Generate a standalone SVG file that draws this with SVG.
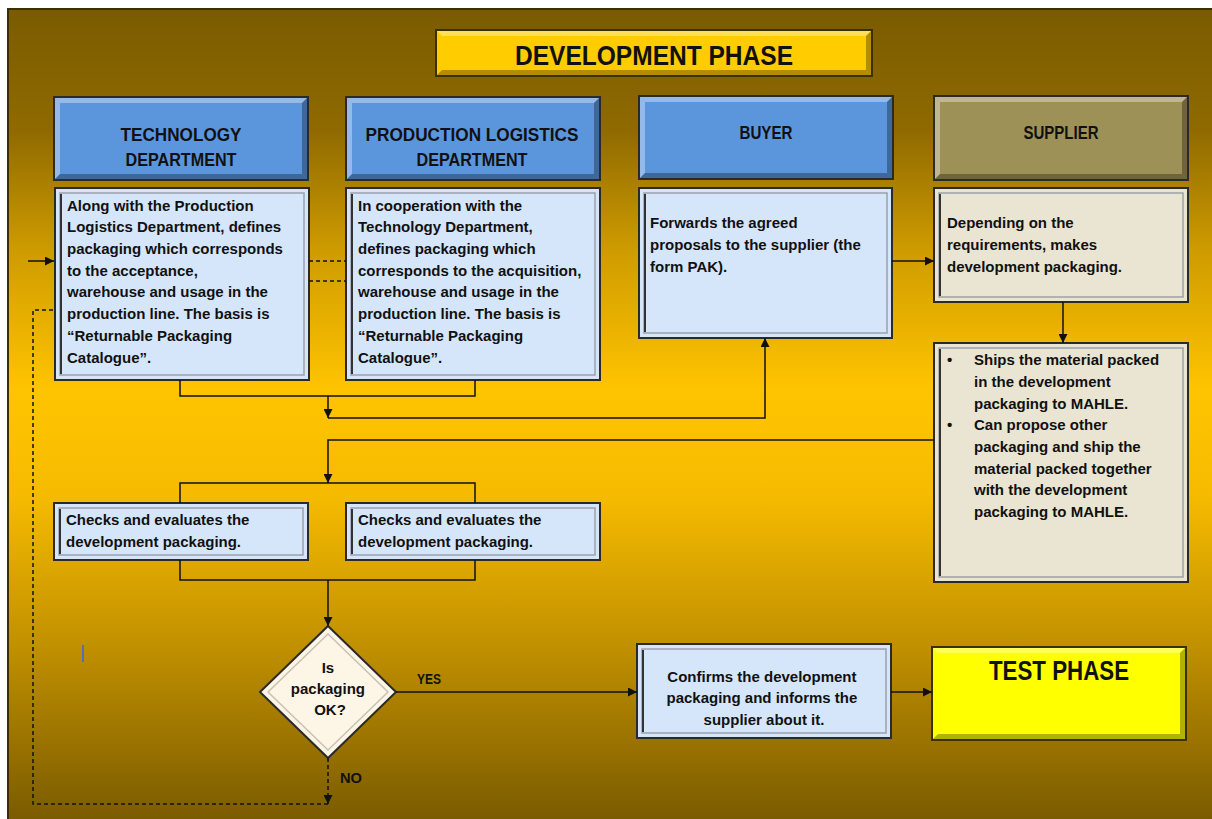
<svg xmlns="http://www.w3.org/2000/svg" width="1212" height="819" viewBox="0 0 1212 819">
<defs>
<linearGradient id="bg" x1="0" y1="9" x2="0" y2="819" gradientUnits="userSpaceOnUse">
<stop offset="0" stop-color="#7a5b00"/>
<stop offset="0.15" stop-color="#8f6a00"/>
<stop offset="0.3" stop-color="#cf9c00"/>
<stop offset="0.47" stop-color="#ffc400"/>
<stop offset="0.6" stop-color="#f6bb00"/>
<stop offset="0.8" stop-color="#bd8d00"/>
<stop offset="1" stop-color="#7a5b00"/>
</linearGradient>
<marker id="arr" viewBox="0 0 10 10" refX="10" refY="5" markerWidth="9" markerHeight="9" markerUnits="userSpaceOnUse" orient="auto">
<path d="M0,0 L10,5 L0,10 Z" fill="#111"/>
</marker>
<style>
.hdr{stroke:#2a2a2a;stroke-width:2}
.blue{fill:#5b96dd}
.sup{fill:#9e9158}
.hl{fill:#ffffff;opacity:0.35}
.sh{fill:#000000;opacity:0.3}
.desc{fill:#d5e6fb;stroke:#2a2a2a;stroke-width:2}
.cream{fill:#eae5d2;stroke:#2a2a2a;stroke-width:2}
.inner{fill:none;stroke:#9aa1aa;stroke-width:1.5}
.innl{stroke:#333;stroke-width:2}
.ht{font-family:"Liberation Sans",Arial,sans-serif;font-weight:bold;font-size:19px;fill:#111;text-anchor:middle}
.bt{font-family:"Liberation Sans",Arial,sans-serif;font-weight:bold;font-size:15px;fill:#111}
.c{text-anchor:middle}
.ln{fill:none;stroke:#111;stroke-width:1.5}
.dash{stroke-dasharray:4,3}
.lbl{font-family:"Liberation Sans",Arial,sans-serif;font-weight:bold;font-size:14px;fill:#111}
</style>
</defs>
<rect x="0" y="0" width="1212" height="819" fill="#ffffff"/>
<rect x="8" y="9" width="1210" height="815" fill="url(#bg)" stroke="#3b2e00" stroke-width="2"/>
<line x1="83" y1="645" x2="83" y2="662" stroke="#3a5cff" stroke-width="1.5"/>

<g id="title">
<rect x="436" y="30" width="436" height="46" fill="#ffcc00" stroke="#3b3000" stroke-width="2"/>
<polygon points="437,31 871,31 866,36 442,36" class="hl"/>
<polygon points="437,75 871,75 866,70 442,70" class="sh"/>
<polygon points="871,31 871,75 866,70 866,36" class="sh"/>
<text x="654" y="65" font-family="'Liberation Sans',Arial,sans-serif" font-weight="bold" font-size="27px" fill="#111" text-anchor="middle" textLength="278" lengthAdjust="spacingAndGlyphs">DEVELOPMENT PHASE</text>
</g>

<g id="hdr-tech">
<rect x="54" y="97" width="254" height="83" class="hdr blue"/>
<polygon points="55,98 307,98 302,103 60,103" class="hl"/>
<polygon points="55,98 60,103 60,174 55,179" class="hl"/>
<polygon points="55,179 307,179 302,174 60,174" class="sh"/>
<polygon points="307,98 307,179 302,174 302,103" class="sh"/>
<text x="181" y="141" class="ht" textLength="121" lengthAdjust="spacingAndGlyphs">TECHNOLOGY</text>
<text x="181" y="166" class="ht" textLength="111" lengthAdjust="spacingAndGlyphs">DEPARTMENT</text>
</g>

<g id="hdr-prod">
<rect x="346" y="97" width="254" height="83" class="hdr blue"/>
<polygon points="347,98 599,98 594,103 352,103" class="hl"/>
<polygon points="347,98 352,103 352,174 347,179" class="hl"/>
<polygon points="347,179 599,179 594,174 352,174" class="sh"/>
<polygon points="599,98 599,179 594,174 594,103" class="sh"/>
<text x="472" y="141" class="ht" textLength="213" lengthAdjust="spacingAndGlyphs">PRODUCTION LOGISTICS</text>
<text x="472" y="166" class="ht" textLength="111" lengthAdjust="spacingAndGlyphs">DEPARTMENT</text>
</g>

<g id="hdr-buyer">
<rect x="639" y="96" width="254" height="83" class="hdr blue"/>
<polygon points="640,97 892,97 887,102 645,102" class="hl"/>
<polygon points="640,97 645,102 645,173 640,178" class="hl"/>
<polygon points="640,178 892,178 887,173 645,173" class="sh"/>
<polygon points="892,97 892,178 887,173 887,102" class="sh"/>
<text x="766" y="139" class="ht" font-size="17px" textLength="53" lengthAdjust="spacingAndGlyphs">BUYER</text>
</g>

<g id="hdr-supplier">
<rect x="934" y="96" width="254" height="84" class="hdr sup"/>
<polygon points="935,97 1187,97 1182,102 940,102" class="hl"/>
<polygon points="935,97 940,102 940,174 935,179" class="hl"/>
<polygon points="935,179 1187,179 1182,174 940,174" class="sh"/>
<polygon points="1187,97 1187,179 1182,174 1182,102" class="sh"/>
<text x="1061" y="139" class="ht" font-size="17px" textLength="75" lengthAdjust="spacingAndGlyphs">SUPPLIER</text>
</g>

<g id="desc-tech">
<rect x="55" y="188" width="254" height="192" class="desc"/>
<rect x="60" y="193" width="244" height="182" class="inner"/>
<line x1="61" y1="194" x2="61" y2="374" class="innl"/>
<text class="bt">
<tspan x="67" y="211">Along with the Production</tspan>
<tspan x="67" y="232">Logistics Department, defines</tspan>
<tspan x="67" y="254">packaging which corresponds</tspan>
<tspan x="67" y="276">to the acceptance,</tspan>
<tspan x="67" y="297">warehouse and usage in the</tspan>
<tspan x="67" y="319">production line. The basis is</tspan>
<tspan x="67" y="341">“Returnable Packaging</tspan>
<tspan x="67" y="363">Catalogue”.</tspan>
</text>
</g>

<g id="desc-prod">
<rect x="346" y="188" width="254" height="192" class="desc"/>
<rect x="351" y="193" width="244" height="182" class="inner"/>
<line x1="352" y1="194" x2="352" y2="374" class="innl"/>
<text class="bt">
<tspan x="358" y="211">In cooperation with the</tspan>
<tspan x="358" y="232">Technology Department,</tspan>
<tspan x="358" y="254">defines packaging which</tspan>
<tspan x="358" y="276">corresponds to the acquisition,</tspan>
<tspan x="358" y="297">warehouse and usage in the</tspan>
<tspan x="358" y="319">production line. The basis is</tspan>
<tspan x="358" y="341">“Returnable Packaging</tspan>
<tspan x="358" y="363">Catalogue”.</tspan>
</text>
</g>

<g id="desc-buyer">
<rect x="639" y="188" width="253" height="150" class="desc"/>
<rect x="644" y="193" width="243" height="140" class="inner"/>
<line x1="645" y1="194" x2="645" y2="332" class="innl"/>
<text class="bt">
<tspan x="650" y="228">Forwards the agreed</tspan>
<tspan x="650" y="250">proposals to the supplier (the</tspan>
<tspan x="650" y="272">form PAK).</tspan>
</text>
</g>

<g id="desc-supplier">
<rect x="934" y="188" width="254" height="114" class="cream"/>
<rect x="939" y="193" width="244" height="104" class="inner"/>
<line x1="940" y1="194" x2="940" y2="296" class="innl"/>
<text class="bt">
<tspan x="947" y="228">Depending on the</tspan>
<tspan x="947" y="250">requirements, makes</tspan>
<tspan x="947" y="272">development packaging.</tspan>
</text>
</g>

<g id="ships">
<rect x="934" y="343" width="254" height="239" class="cream"/>
<rect x="939" y="348" width="244" height="229" class="inner"/>
<line x1="940" y1="349" x2="940" y2="576" class="innl"/>
<text class="bt">
<tspan x="947" y="365">•</tspan>
<tspan x="974" y="365">Ships the material packed</tspan>
<tspan x="974" y="387">in the development</tspan>
<tspan x="974" y="409">packaging to MAHLE.</tspan>
<tspan x="947" y="430">•</tspan>
<tspan x="974" y="430">Can propose other</tspan>
<tspan x="974" y="452">packaging and ship the</tspan>
<tspan x="974" y="474">material packed together</tspan>
<tspan x="974" y="495">with the development</tspan>
<tspan x="974" y="517">packaging to MAHLE.</tspan>
</text>
</g>

<g id="check-tech">
<rect x="54" y="503" width="254" height="57" class="desc"/>
<rect x="59" y="508" width="244" height="47" class="inner"/>
<line x1="60" y1="509" x2="60" y2="554" class="innl"/>
<text class="bt">
<tspan x="66" y="525">Checks and evaluates the</tspan>
<tspan x="66" y="547">development packaging.</tspan>
</text>
</g>

<g id="check-prod">
<rect x="346" y="503" width="254" height="57" class="desc"/>
<rect x="351" y="508" width="244" height="47" class="inner"/>
<line x1="352" y1="509" x2="352" y2="554" class="innl"/>
<text class="bt">
<tspan x="358" y="525">Checks and evaluates the</tspan>
<tspan x="358" y="547">development packaging.</tspan>
</text>
</g>

<g id="decision">
<polygon points="328,626 396,692 328,758 260,692" fill="#fdf5e6" stroke="#2a2a2a" stroke-width="2"/>
<polygon points="328,634 388,692 328,750 268,692" fill="none" stroke="#c9c2b3" stroke-width="1.5"/>
<text class="bt c" font-size="14.5px">
<tspan x="330" y="673">Is</tspan>
<tspan x="330" y="694">packaging</tspan>
<tspan x="330" y="715">OK?</tspan>
</text>
</g>

<g id="confirm">
<rect x="637" y="644" width="254" height="94" class="desc"/>
<rect x="642" y="649" width="244" height="84" class="inner"/>
<line x1="643" y1="650" x2="643" y2="732" class="innl"/>
<text class="bt c" font-size="14.5px">
<tspan x="764" y="682">Confirms the development</tspan>
<tspan x="764" y="703">packaging and informs the</tspan>
<tspan x="764" y="725">supplier about it.</tspan>
</text>
</g>

<g id="test-phase">
<rect x="932" y="647" width="254" height="93" fill="#ffff00" stroke="#3b3000" stroke-width="2"/>
<polygon points="933,648 1185,648 1180,653 938,653" class="hl"/>
<polygon points="933,739 1185,739 1180,734 938,734" class="sh"/>
<polygon points="1185,648 1185,739 1180,734 1180,653" class="sh"/>
<text x="1059" y="680" font-family="'Liberation Sans',Arial,sans-serif" font-weight="bold" font-size="27px" fill="#111" text-anchor="middle" textLength="140" lengthAdjust="spacingAndGlyphs">TEST PHASE</text>
</g>

<g id="connectors">
<line x1="28" y1="261" x2="54" y2="261" class="ln" marker-end="url(#arr)"/>
<line x1="309" y1="261" x2="346" y2="261" class="ln dash"/>
<line x1="309" y1="281" x2="346" y2="281" class="ln dash"/>
<polyline points="180,380 180,396 475,396 475,380" class="ln"/>
<line x1="328" y1="396" x2="328" y2="418" class="ln" marker-end="url(#arr)"/>
<polyline points="328,418 765,418 765,338" class="ln" marker-end="url(#arr)"/>
<line x1="892" y1="261" x2="934" y2="261" class="ln" marker-end="url(#arr)"/>
<line x1="1063" y1="302" x2="1063" y2="343" class="ln" marker-end="url(#arr)"/>
<polyline points="934,440 328,440 328,483" class="ln" marker-end="url(#arr)"/>
<polyline points="180,503 180,483 475,483 475,503" class="ln"/>
<polyline points="180,560 180,580 475,580 475,560" class="ln"/>
<line x1="328" y1="580" x2="328" y2="626" class="ln" marker-end="url(#arr)"/>
<line x1="396" y1="692" x2="637" y2="692" class="ln" marker-end="url(#arr)"/>
<line x1="891" y1="692" x2="932" y2="692" class="ln" marker-end="url(#arr)"/>
<line x1="328" y1="758" x2="328" y2="804" class="ln dash" marker-end="url(#arr)"/>
<polyline points="328,804 33,804 33,310 55,310" class="ln dash"/>
<text x="417" y="684" class="lbl" textLength="24" lengthAdjust="spacingAndGlyphs">YES</text>
<text x="340" y="783" class="lbl" textLength="22" lengthAdjust="spacingAndGlyphs">NO</text>
</g>
</svg>
